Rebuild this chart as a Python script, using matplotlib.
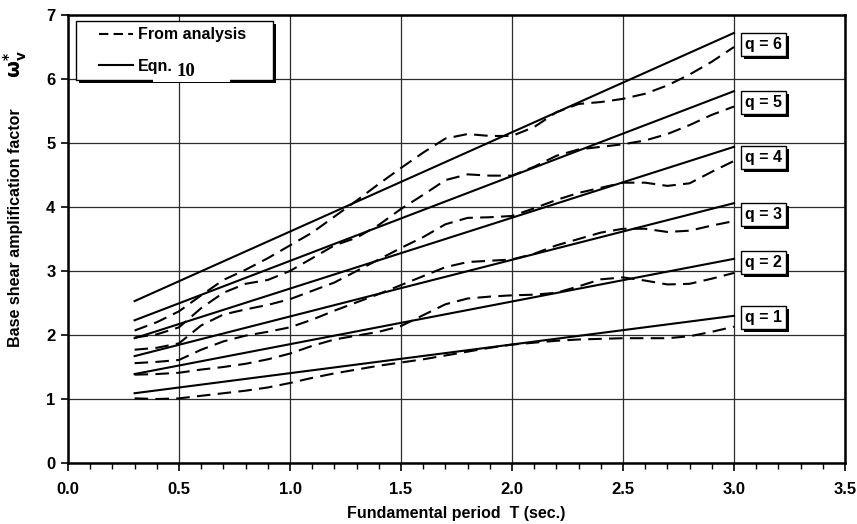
import numpy as np
import matplotlib
matplotlib.use("Agg")
import matplotlib.pyplot as plt
from matplotlib.patches import Rectangle
from matplotlib import patheffects as pe

plt.rcParams['font.family'] = ['Liberation Sans', 'DejaVu Sans']
plt.rcParams['font.weight'] = 'bold'
plt.rcParams['mathtext.fontset'] = 'dejavusans'
plt.rcParams['mathtext.default'] = 'bf'

# ---------------- data ----------------
T = [0.3, 0.4, 0.5, 0.6, 0.7, 0.8, 0.9, 1.0, 1.1, 1.2, 1.3, 1.4, 1.5, 1.6,
     1.7, 1.8, 1.9, 2.0, 2.1, 2.2, 2.3, 2.4, 2.5, 2.6, 2.7, 2.8, 2.9, 3.0]

analysis_q1 = [1.01, 1.00, 1.01, 1.05, 1.09, 1.13, 1.18, 1.25, 1.33, 1.40, 1.46, 1.52, 1.57, 1.62,
               1.68, 1.74, 1.80, 1.85, 1.88, 1.91, 1.93, 1.94, 1.95, 1.95, 1.95, 1.98, 2.05, 2.13]
analysis_q2 = [1.38, 1.39, 1.41, 1.46, 1.50, 1.55, 1.62, 1.71, 1.83, 1.93, 1.99, 2.05, 2.14, 2.31,
               2.48, 2.57, 2.60, 2.62, 2.63, 2.66, 2.76, 2.87, 2.90, 2.85, 2.79, 2.80, 2.88, 2.97]
analysis_q3 = [1.56, 1.58, 1.61, 1.77, 1.90, 1.99, 2.05, 2.12, 2.24, 2.38, 2.51, 2.64, 2.78, 2.92,
               3.06, 3.14, 3.16, 3.18, 3.27, 3.40, 3.50, 3.60, 3.66, 3.66, 3.61, 3.63, 3.71, 3.78]
analysis_q4 = [1.77, 1.80, 1.87, 2.15, 2.32, 2.40, 2.47, 2.56, 2.69, 2.82, 3.00, 3.18, 3.36, 3.53,
               3.73, 3.83, 3.84, 3.86, 3.98, 4.11, 4.22, 4.30, 4.38, 4.38, 4.33, 4.37, 4.55, 4.72]
analysis_q5 = [1.96, 2.01, 2.12, 2.42, 2.66, 2.80, 2.86, 3.00, 3.20, 3.40, 3.52, 3.72, 3.97, 4.19,
               4.42, 4.51, 4.49, 4.49, 4.63, 4.80, 4.90, 4.94, 4.98, 5.04, 5.14, 5.28, 5.44, 5.57]
analysis_q6 = [2.07, 2.20, 2.37, 2.62, 2.86, 3.02, 3.20, 3.40, 3.60, 3.85, 4.10, 4.36, 4.61, 4.85,
               5.07, 5.14, 5.11, 5.11, 5.25, 5.48, 5.61, 5.64, 5.69, 5.77, 5.90, 6.07, 6.27, 6.50]

eqn_T = [0.3, 3.0]
eqn_q1 = [1.09, 2.30]
eqn_q2 = [1.39, 3.19]
eqn_q3 = [1.67, 4.06]
eqn_q4 = [1.95, 4.94]
eqn_q5 = [2.23, 5.81]
eqn_q6 = [2.53, 6.72]

q_values = [1, 2, 3, 4, 5, 6]
x_ticks = [0.0, 0.5, 1.0, 1.5, 2.0, 2.5, 3.0, 3.5]
x_tick_labels = ['0.0', '0.5', '1.0', '1.5', '2.0', '2.5', '3.0', '3.5']
y_ticks = [0, 1, 2, 3, 4, 5, 6, 7]

analysis = [analysis_q1, analysis_q2, analysis_q3, analysis_q4, analysis_q5, analysis_q6]
eqn = [eqn_q1, eqn_q2, eqn_q3, eqn_q4, eqn_q5, eqn_q6]

# label layout (positions of the q boxes)
q_label_x = 3.05
q_label_y = [2.27, 3.14, 3.89, 4.77, 5.64, 6.54]

# ---------------- figure ----------------
fig = plt.figure(figsize=(8.57, 5.24), dpi=100)
ax = fig.add_axes([68 / 857, 1 - 463 / 524, 777 / 857, 448 / 524])
ax.set_xlim(0, 3.5)
ax.set_ylim(0, 7)

ax.set_xticks(x_ticks)
ax.set_xticklabels(x_tick_labels)
ax.set_xticks(np.arange(0, 3.51, 0.1), minor=True)
ax.set_yticks(y_ticks)
ax.tick_params(axis='x', which='major', direction='out', length=6, width=1.2,
               labelsize=12, pad=8)
ax.tick_params(axis='x', which='minor', direction='out', length=4, width=1.0)
ax.tick_params(axis='y', which='major', direction='out', length=5, width=1.2,
               labelsize=12, pad=4)
for lab in ax.get_xticklabels() + ax.get_yticklabels():
    lab.set_fontweight('bold')

ax.grid(True, which='major', color='#2b2b2b', lw=0.9)
ax.set_axisbelow(True)
for s in ax.spines.values():
    s.set_linewidth(1.8)
    s.set_color('black')

dash = (6.5, 3.5)
for q, a, e in zip(q_values, analysis, eqn):
    ax.plot(T, a, color='black', lw=1.5, dashes=dash, zorder=3)
    ax.plot(eqn_T, e, color='black', lw=1.5, zorder=3)

shadow = [pe.SimplePatchShadow(offset=(2.2, -2.2), shadow_rgbFace='black', alpha=1.0),
          pe.Normal()]

for q, yl in zip(q_values, q_label_y):
    t = ax.text(q_label_x, yl, f'q = {q}', fontsize=11.5, fontweight='bold',
                ha='left', va='center', zorder=6,
                bbox=dict(boxstyle='square,pad=0.25', fc='white', ec='black', lw=1.0))
    t.get_bbox_patch().set_path_effects(shadow)

# legend (drawn manually to reproduce the boxed look)
tr = ax.transAxes
leg = Rectangle((0.010, 0.855), 0.254, 0.132, transform=tr, fc='white',
                ec='black', lw=1.0, zorder=5)
leg.set_path_effects(shadow)
ax.add_patch(leg)
ax.add_patch(Rectangle((0.109, 0.850), 0.099, 0.008, transform=tr, fc='white',
                       ec='none', zorder=5.5))
ax.plot([0.040, 0.084], [0.957, 0.957], transform=tr, color='black', lw=1.5,
        dashes=(4.5, 2.5), zorder=6)
ax.plot([0.040, 0.084], [0.888, 0.888], transform=tr, color='black', lw=1.5, zorder=6)
ax.text(0.090, 0.957, 'From analysis', transform=tr, fontsize=11.5, fontweight='bold',
        ha='left', va='center', zorder=7)
ax.text(0.090, 0.886, 'Eqn.', transform=tr, fontsize=11.5, fontweight='bold',
        ha='left', va='center', zorder=7)
ax.text(0.139, 0.874, '10', transform=tr, fontsize=13.5, fontweight='bold',
        family='Liberation Serif', ha='left', va='center', zorder=7)

# axis labels
ax.set_xlabel('Fundamental period  T (sec.)', fontsize=11.5, fontweight='bold', labelpad=6)
fig.text(16 / 857, 1 - 228 / 524, 'Base shear amplification factor', rotation=90,
         fontsize=11.5, fontweight='bold', ha='center', va='center')
fig.text(15 / 857, 1 - 64 / 524, r'$\omega^{*}_{v}$', rotation=90,
         fontsize=14, ha='center', va='center')

fig.savefig('out.png', dpi=100)
